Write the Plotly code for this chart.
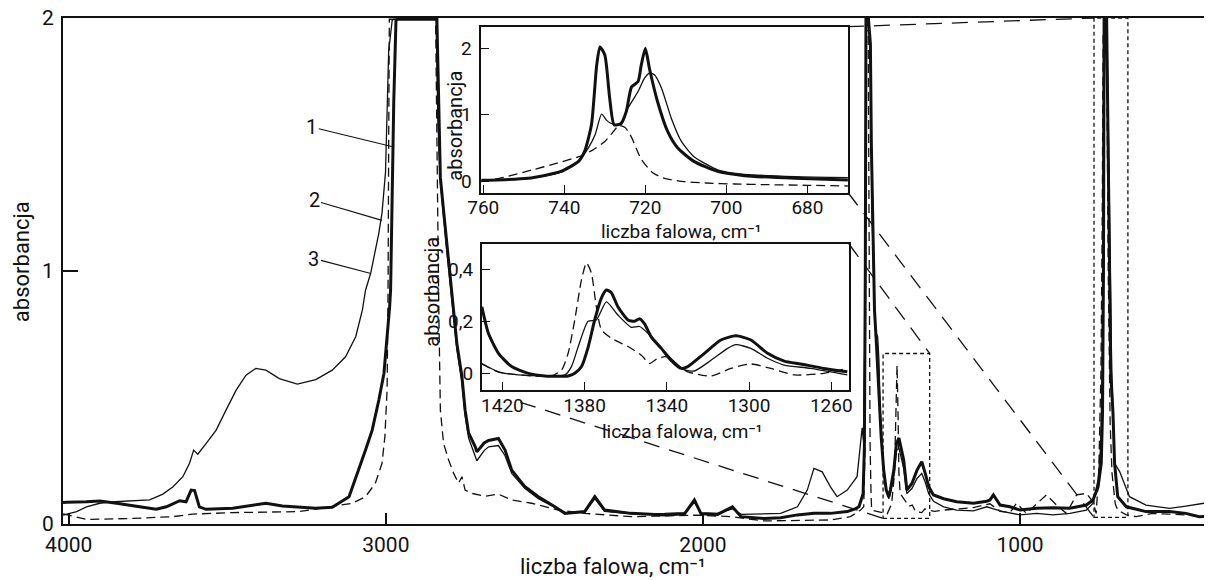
import plotly.graph_objects as go

# ---------------- main spectrum (liczba falowa / absorbancja) ----------------
# curve 1 : thick solid
main_wn_1 = [4018, 4006, 3944, 3902, 3849, 3797, 3724, 3692, 3650, 3630, 3614, 3603, 3588, 3567,
             3483, 3378, 3326, 3221, 3169, 3116, 3085, 3064, 3043, 3022, 3006, 2996, 2988, 2985,
             2980, 2975, 2968, 2965, 2839, 2833, 2828, 2818, 2807, 2797, 2786, 2776, 2760, 2750,
             2739, 2718, 2713, 2690, 2676, 2645, 2624, 2603, 2561, 2519, 2467, 2435, 2405, 2373,
             2341, 2310, 2226, 2121, 2058, 2027, 2006, 1954, 1907, 1880, 1807, 1755, 1702, 1650,
             1598, 1545, 1520, 1508, 1495, 1491, 1488, 1486, 1478, 1472, 1469, 1464, 1459, 1453,
             1446, 1438, 1430, 1422, 1414, 1409, 1398, 1390, 1382, 1367, 1357, 1341, 1325, 1310,
             1299, 1288, 1273, 1241, 1200, 1147, 1105, 1095, 1084, 1063, 1032, 1000, 948, 896,
             843, 791, 770, 754, 744, 740, 737, 735, 727, 720, 714, 707, 702, 692, 665, 603, 529,
             477, 435, 420]
main_abs_1 = [0.085, 0.086, 0.088, 0.091, 0.082, 0.071, 0.058, 0.068, 0.092, 0.088, 0.134, 0.132, 0.068, 0.058,
              0.062, 0.082, 0.071, 0.062, 0.066, 0.108, 0.213, 0.292, 0.371, 0.49, 0.595, 0.727, 0.858, 0.924,
              1.28, 1.67, 1.99, 1.995, 1.995, 1.595, 1.37, 1.24, 1.108, 0.977, 0.845, 0.714, 0.582, 0.45,
              0.36, 0.305, 0.285, 0.32, 0.33, 0.338, 0.292, 0.213, 0.147, 0.108, 0.068, 0.042, 0.045, 0.049,
              0.108, 0.055, 0.042, 0.036, 0.04, 0.095, 0.04, 0.038, 0.068, 0.029, 0.022, 0.025, 0.036, 0.042,
              0.042, 0.049, 0.06, 0.068, 0.12, 0.30, 1.0, 1.995, 1.995, 1.898, 1.503, 1.108, 0.845, 0.713,
              0.516, 0.345, 0.213, 0.134, 0.108, 0.134, 0.213, 0.318, 0.34, 0.253, 0.134, 0.16, 0.213, 0.246,
              0.2, 0.147, 0.115, 0.1, 0.088, 0.082, 0.09, 0.095, 0.115, 0.075, 0.068, 0.055, 0.062, 0.064,
              0.062, 0.075, 0.095, 0.147, 0.24, 0.44, 1.0, 1.995, 1.995, 1.2, 0.6, 0.437, 0.24, 0.108, 0.068, 0.049, 0.049,
              0.042, 0.029, 0.03]

# curve 2 : dashed
main_wn_2 = [4018, 4006, 3944, 3797, 3671, 3609, 3483, 3273, 3169, 3106, 3064, 3033, 3012, 3003,
             2996, 2993, 2991, 2989, 2843, 2840, 2836, 2833, 2831, 2828, 2818, 2802, 2786, 2771,
             2760, 2750, 2729, 2687, 2645, 2603, 2540, 2456, 2373, 2226, 2016, 1912, 1807, 1598,
             1535, 1503, 1493, 1489, 1487, 1485, 1479, 1476, 1473, 1470, 1468, 1419, 1405, 1396,
             1392, 1388, 1385, 1382, 1378, 1367, 1350, 1340, 1330, 1310, 1300, 1290, 1270, 1241,
             1200, 1147, 1095, 1063, 1032, 1011, 980, 917, 885, 854, 822, 791, 770, 760, 752, 745,
             741, 738, 727, 722, 716, 710, 700, 692, 665, 634, 582, 477, 424, 420]
main_abs_2 = [0.04, 0.036, 0.018, 0.022, 0.029, 0.039, 0.045, 0.049, 0.068, 0.082, 0.108, 0.161, 0.24, 0.345,
              0.53, 0.92, 1.5, 1.995, 1.995, 1.5, 1.187, 0.845, 0.582, 0.45, 0.319, 0.253, 0.2, 0.161,
              0.187, 0.134, 0.121, 0.11, 0.118, 0.095, 0.082, 0.055, 0.042, 0.029, 0.035, 0.029, 0.012, 0.016,
              0.029, 0.055, 0.068, 0.3, 1.0, 1.95, 1.95, 1.0, 0.319, 0.121, 0.055, 0.04, 0.08, 0.2,
              0.4, 0.628, 0.45, 0.2, 0.12, 0.1, 0.07, 0.075, 0.05, 0.045, 0.06, 0.055, 0.05, 0.055,
              0.06, 0.065, 0.08, 0.05, 0.045, 0.082, 0.042, 0.115, 0.075, 0.042, 0.115, 0.121, 0.088, 0.042, 0.2, 0.6,
              1.2, 1.93, 1.93, 1.0, 0.4, 0.2, 0.08, 0.055, 0.036, 0.029, 0.042, 0.036, 0.029, 0.03]

# curve 3 : thin solid
main_wn_3 = [4018, 4006, 3975, 3944, 3902, 3870, 3797, 3745, 3703, 3671, 3640, 3619, 3606, 3593,
             3567, 3535, 3504, 3472, 3441, 3410, 3378, 3336, 3279, 3221, 3169, 3127, 3095, 3074,
             3064, 3048, 3022, 3012, 3001, 2996, 2991, 2980, 2975, 2841, 2836, 2828, 2818, 2807,
             2797, 2786, 2776, 2760, 2750, 2739, 2718, 2713, 2690, 2676, 2645, 2624, 2603, 2561,
             2519, 2467, 2435, 2373, 2341, 2310, 2226, 2121, 2058, 2027, 2006, 1954, 1907, 1880,
             1807, 1755, 1702, 1671, 1650, 1624, 1598, 1577, 1545, 1514, 1503, 1498, 1494, 1490,
             1487, 1485, 1477, 1471, 1467, 1457, 1449, 1445, 1441, 1430, 1419, 1414, 1409, 1398,
             1390, 1382, 1367, 1357, 1341, 1325, 1310, 1299, 1288, 1273, 1241, 1200, 1147, 1105,
             1084, 1053, 1000, 948, 896, 843, 791, 770, 754, 746, 741, 738, 736, 726, 718, 711,
             705, 702, 686, 676, 655, 603, 529, 477, 424, 420]
main_abs_3 = [0.035, 0.039, 0.049, 0.068, 0.082, 0.087, 0.09, 0.095, 0.118, 0.147, 0.187, 0.24, 0.292, 0.276,
              0.318, 0.371, 0.45, 0.529, 0.588, 0.615, 0.608, 0.575, 0.553, 0.571, 0.608, 0.661, 0.74, 0.845,
              0.924, 0.99, 1.15, 1.23, 1.39, 1.67, 1.87, 1.99, 1.995, 1.995, 1.6, 1.35, 1.2, 1.07,
              0.95, 0.82, 0.69, 0.56, 0.43, 0.34, 0.27, 0.25, 0.29, 0.305, 0.31, 0.27, 0.2, 0.14,
              0.1, 0.065, 0.045, 0.045, 0.1, 0.05, 0.04, 0.042, 0.045, 0.085, 0.045, 0.042, 0.06, 0.038,
              0.04, 0.042, 0.068, 0.134, 0.22, 0.206, 0.147, 0.108, 0.134, 0.187, 0.32, 0.38, 0.33, 0.7,
              1.6, 1.98, 1.98, 1.8, 1.24, 0.766, 0.74, 0.648, 0.45, 0.2, 0.121, 0.1, 0.12, 0.19,
              0.29, 0.30, 0.22, 0.12, 0.14, 0.18, 0.2, 0.165, 0.12, 0.09, 0.068, 0.055, 0.052, 0.068,
              0.06, 0.049, 0.036, 0.042, 0.036, 0.042, 0.055, 0.082, 0.174, 0.305, 0.6, 1.2, 1.96, 1.96, 1.2, 0.6,
              0.36, 0.24, 0.207, 0.174, 0.108, 0.075, 0.062, 0.071, 0.082, 0.082]

# ---------------- inset 1 (760-670 cm-1) ----------------
in1_wn_1 = [760.5, 749, 741, 736.5, 735, 733.3, 732, 731.2, 730, 728.8, 727.7, 726, 724.7, 723.4,
            721.8, 721, 720, 719, 717, 714.5, 712, 708, 702, 695.5, 683, 670]
in1_abs_1 = [0.015, 0.045, 0.145, 0.30, 0.45, 0.85, 1.75, 2.02, 1.90, 1.25, 0.85, 0.87, 1.05, 1.42,
             1.50, 1.75, 2.0, 1.70, 1.20, 0.75, 0.50, 0.30, 0.145, 0.085, 0.045, 0.02]
in1_wn_2 = [760.5, 755, 748, 742, 736, 733, 730, 728, 726.5, 725, 723.4, 721, 718, 715, 711, 705,
            698, 690, 680, 670]
in1_abs_2 = [-0.005, 0.06, 0.17, 0.27, 0.38, 0.47, 0.6, 0.74, 0.84, 0.81, 0.66, 0.33, 0.12, 0.04, 0.0,
             -0.025, -0.04, -0.05, -0.06, -0.07]
in1_wn_3 = [760.5, 749, 741, 736.5, 734.1, 732.4, 730.8, 729.6, 728.4, 727.1, 725.9, 724.3, 721.8,
            720.2, 718.9, 717.7, 716, 713.6, 711.1, 708, 702, 695.5, 683, 670]
in1_abs_3 = [0.015, 0.045, 0.135, 0.30, 0.50, 0.70, 1.01, 0.92, 0.87, 0.85, 0.86, 1.10, 1.35,
             1.55, 1.63, 1.60, 1.40, 0.95, 0.60, 0.37, 0.17, 0.105, 0.07, 0.055]

# ---------------- inset 2 (1430-1250 cm-1) ----------------
in2_wn_1 = [1430, 1426.8, 1421.9, 1415.5, 1407.4, 1399.3, 1388, 1384.8, 1381.5, 1378.3, 1375.1,
            1371.8, 1369.4, 1367, 1363.8, 1358.9, 1355.7, 1353.3, 1350.8, 1347.6, 1342.7, 1337.9,
            1333, 1329.8, 1321.7, 1313.7, 1306.4, 1299.1, 1291, 1282.9, 1274.9, 1263.6, 1252.2]
in2_abs_1 = [0.256, 0.154, 0.077, 0.026, 0.0, -0.01, -0.01, 0.0, 0.026, 0.10, 0.205,
             0.29, 0.32, 0.31, 0.256, 0.205, 0.20, 0.21, 0.19, 0.14, 0.096, 0.05,
             0.019, 0.026, 0.077, 0.128, 0.144, 0.128, 0.077, 0.047, 0.036, 0.019, 0.006]
in2_wn_2 = [1430, 1421.9, 1407.4, 1396.1, 1391.2, 1388, 1384.8, 1381.5, 1379.1, 1376.7, 1374.3,
            1371.8, 1367, 1358.9, 1352.4, 1348.4, 1344.4, 1340.3, 1336.3, 1329.8, 1318.5, 1308.8,
            1299.1, 1289.4, 1278.1, 1263.6, 1252.2]
in2_abs_2 = [0.036, 0.005, -0.009, -0.01, 0.013, 0.077, 0.205, 0.36, 0.425, 0.385, 0.256,
             0.167, 0.135, 0.103, 0.07, 0.038, 0.058, 0.064, 0.038, 0.006, -0.01, 0.019,
             0.036, 0.019, -0.006, 0.0, 0.019]
in2_wn_3 = [1430, 1421.9, 1412.2, 1399.3, 1389.6, 1386.4, 1383.2, 1378.3, 1374.3, 1369.4, 1363.8,
            1357.3, 1353.3, 1349.2, 1342.7, 1336.3, 1331.4, 1326.6, 1318.5, 1310.4, 1306.4, 1299.1,
            1291, 1282.9, 1270, 1252.2]
in2_abs_3 = [0.038, 0.006, -0.006, -0.01, -0.006, 0.026, 0.10, 0.20, 0.205, 0.275, 0.224,
             0.177, 0.18, 0.154, 0.096, 0.045, 0.013, 0.009, 0.05, 0.096, 0.11, 0.096,
             0.058, 0.032, 0.019, -0.006]

# tick labels
main_x_ticks = [4000, 3000, 2000, 1000]
main_y_ticks = [0, 1, 2]
in1_x_ticks = [760, 740, 720, 700, 680]
in1_y_ticks = [0, 1, 2]
in2_x_ticks = [1420, 1380, 1340, 1300, 1260]
in2_y_ticks = [0, 0.2, 0.4]
in2_y_ticktext = ["0", "0,2", "0,4"]

# zoom frames marked on the main spectrum (data units)
frame_a_wn = [1432, 1285]
frame_a_abs = [0.0225, 0.674]
frame_b_wn = [766.8, 660]
frame_b_abs = [0.026, 2.0]

# ---------------- layout geometry ----------------
W, H = 1208, 580
ML, MR, MT, MB = 63, 0, 18, 56
PW, PH = W - ML - MR, H - MT - MB
MAIN_X = [4018, 420]
MAIN_Y = [0, 2]
IN1_X = [760.5, 670]
IN1_Y = [-0.168, 2.325]
IN2_X = [1430, 1251.4]
IN2_Y = [-0.064, 0.497]


def pp(px, py):
    return (px - ML) / PW, (H - MB - py) / PH


in1_l, in1_t = pp(482.7, 26.7)
in1_r, in1_b = pp(850.7, 192.5)
in2_l, in2_t = pp(483.3, 244)
in2_r, in2_b = pp(851.7, 390)


def d2p(wn, a):
    return (MAIN_X[0] - wn) / (MAIN_X[0] - MAIN_X[1]), (a - MAIN_Y[0]) / (MAIN_Y[1] - MAIN_Y[0])


FONT = "Roboto"
BLACK = "#111111"
THICK, THIN = 3.0, 1.3

fig = go.Figure()


def add(xs, ys, style, xa, ya, spline=False):
    w = THICK if style == 1 else THIN
    dash = "9px,5px" if style == 2 else "solid"
    fig.add_trace(go.Scatter(
        x=xs, y=ys, mode="lines", xaxis=xa, yaxis=ya, showlegend=False, hoverinfo="skip",
        line=dict(color=BLACK, width=w, dash=dash,
                  shape="spline" if spline else "linear", smoothing=0.6)))


add(main_wn_2, main_abs_2, 2, "x", "y")
add(main_wn_3, main_abs_3, 3, "x", "y")
add(main_wn_1, main_abs_1, 1, "x", "y")
add(in1_wn_2, in1_abs_2, 2, "x2", "y2", True)
add(in1_wn_3, in1_abs_3, 3, "x2", "y2", True)
add(in1_wn_1, in1_abs_1, 1, "x2", "y2", True)
add(in2_wn_2, in2_abs_2, 2, "x3", "y3", True)
add(in2_wn_3, in2_abs_3, 3, "x3", "y3", True)
add(in2_wn_1, in2_abs_1, 1, "x3", "y3", True)

axis_common = dict(showline=True, linecolor=BLACK, showgrid=False, zeroline=False,
                   ticks="inside", tickcolor=BLACK, color=BLACK)

fig.update_layout(
    width=W, height=H, margin=dict(l=ML, r=MR, t=MT, b=MB),
    paper_bgcolor="white", plot_bgcolor="white",
    font=dict(family=FONT, color=BLACK),
    xaxis=dict(**axis_common, range=MAIN_X, mirror=True, linewidth=2, tickwidth=1.5, ticklen=11,
               tickvals=main_x_ticks, tickfont=dict(size=21), ticklabelstandoff=1),
    yaxis=dict(**axis_common, range=MAIN_Y, mirror=False, linewidth=2, tickwidth=1.5, ticklen=15,
               tickvals=main_y_ticks, tickfont=dict(size=21), ticklabelstandoff=3),
    xaxis2=dict(**axis_common, domain=[in1_l, in1_r], anchor="y2", range=IN1_X, mirror=True,
                linewidth=1.6, tickwidth=1.3, ticklen=8, tickvals=in1_x_ticks,
                tickfont=dict(size=19), ticklabelstandoff=-3),
    yaxis2=dict(**axis_common, domain=[in1_b, in1_t], anchor="x2", range=IN1_Y, mirror=True,
                linewidth=1.6, tickwidth=1.3, ticklen=8, tickvals=in1_y_ticks,
                tickfont=dict(size=19), ticklabelstandoff=4),
    xaxis3=dict(**axis_common, domain=[in2_l, in2_r], anchor="y3", range=IN2_X, mirror=True,
                linewidth=1.6, tickwidth=1.3, ticklen=8, tickvals=in2_x_ticks,
                tickfont=dict(size=19), ticklabelstandoff=-3),
    yaxis3=dict(**axis_common, domain=[in2_b, in2_t], anchor="x3", range=IN2_Y, mirror=True,
                linewidth=1.6, tickwidth=1.3, ticklen=8, tickvals=in2_y_ticks,
                ticktext=in2_y_ticktext, tickfont=dict(size=19), ticklabelstandoff=3),
)

# dotted frames on the main spectrum
for xs, ys in ((frame_a_wn, frame_a_abs), (frame_b_wn, frame_b_abs)):
    fig.add_shape(type="rect", xref="x", yref="y", x0=xs[0], x1=xs[1], y0=ys[0], y1=ys[1],
                  line=dict(color=BLACK, width=1.3, dash="4px,3px"))

# long-dash connector lines between the insets and the frames
fa_l, fa_b = d2p(frame_a_wn[0], frame_a_abs[0])
fa_r, fa_t = d2p(frame_a_wn[1], frame_a_abs[1])
fb_l, fb_b = d2p(frame_b_wn[0], frame_b_abs[0])
fb_r, fb_t = d2p(frame_b_wn[1], frame_b_abs[1])
t4 = 0.096
connectors = [
    ((in1_r, in1_t), (fb_l, fb_t)),
    ((in1_r, in1_b), (fb_l, fb_b)),
    ((in2_r, in2_t), (fa_r, fa_t)),
    ((in2_l + t4 * (fa_l - in2_l), in2_b + t4 * (fa_b - in2_b)), (fa_l, fa_b)),
]
for (x0, y0), (x1, y1) in connectors:
    fig.add_shape(type="line", xref="paper", yref="paper", x0=x0, y0=y0, x1=x1, y1=y1,
                  line=dict(color=BLACK, width=1.3, dash="16px,10px"))


# axis titles (as annotations for exact placement)
def title(text, px, py, size, angle=0):
    x, y = pp(px, py)
    fig.add_annotation(text=text, x=x, y=y, xref="paper", yref="paper", showarrow=False,
                       textangle=angle, font=dict(size=size, family=FONT, color=BLACK),
                       xanchor="center", yanchor="middle")


XT = "liczba falowa, cm\u207b\u00b9"
title(XT, 615, 566, 22)
title("absorbancja", 21, 262, 22, -90)
title(XT, 683, 231, 19)
title("absorbancja", 456, 126, 20, -90)
title(XT, 684, 431, 19)
title("absorbancja", 433, 292, 20, -90)

# curve numbers with leader lines
for lab, wn, a, ax, ay in (("1", 2975, 1.49, -82, -20), ("2", 3012, 1.20, -68, -20),
                           ("3", 3047, 0.99, -57, -15)):
    fig.add_annotation(text=lab, x=wn, y=a, xref="x", yref="y", ax=ax, ay=ay,
                       showarrow=True, arrowhead=0, arrowwidth=1.1, arrowcolor=BLACK,
                       standoff=0, font=dict(size=20, family=FONT, color=BLACK))

fig.write_html("out.html")
